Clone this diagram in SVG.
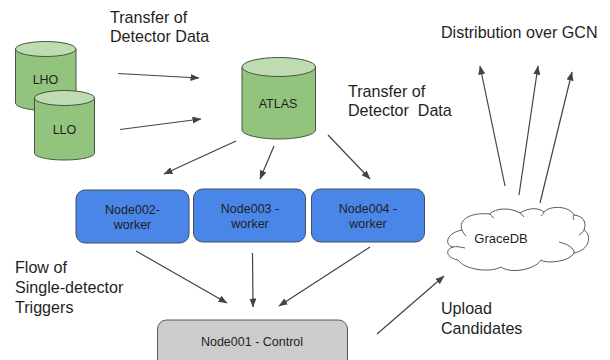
<svg xmlns="http://www.w3.org/2000/svg" width="610" height="360" viewBox="0 0 610 360">
<style>
text{font-family:"Liberation Sans",Arial,sans-serif;fill:#1f1f1f}
.l{font-size:16.1px;white-space:pre}
.n{font-size:12.5px;text-anchor:middle}
.body{fill:#93c47d;stroke:#45553f;stroke-width:1}
.top{fill:#bedbb1;stroke:#45553f;stroke-width:1}
.blue{fill:#4a86e8;stroke:#434f63;stroke-width:1}
.grey{fill:#cccccc;stroke:#595959;stroke-width:1}
.c{stroke:#434343;stroke-width:1.2;fill:none;marker-end:url(#a)}
.cloud{fill:#fff;stroke:#595959;stroke-width:1}
.arc{fill:none;stroke:#595959;stroke-width:1}
</style>
<defs><marker id="a" markerUnits="userSpaceOnUse" markerWidth="10" markerHeight="8" refX="8.5" refY="3.500" orient="auto"><path d="M0 0L9 3.500L0 7Z" fill="#434343"/></marker></defs>
<rect width="610" height="360" fill="#fff"/>
<g id="connectors">
<line class="c" x1="118" y1="73.500" x2="199" y2="78"/>
<line class="c" x1="120" y1="129.500" x2="201" y2="119"/>
<line class="c" x1="236" y1="141" x2="164" y2="174"/>
<line class="c" x1="274" y1="146" x2="260" y2="179"/>
<line class="c" x1="328" y1="135" x2="370" y2="179"/>
<line class="c" x1="136" y1="251" x2="227" y2="303"/>
<line class="c" x1="252.500" y1="253" x2="253" y2="307"/>
<line class="c" x1="370" y1="247" x2="279" y2="306"/>
<line class="c" x1="377" y1="334" x2="444" y2="276"/>
<line class="c" x1="505" y1="186" x2="480" y2="66"/>
<line class="c" x1="519" y1="195" x2="538" y2="66"/>
<line class="c" x1="540" y1="203" x2="572" y2="72"/>
</g>
<g id="lho">
<path class="body" d="M15.500 49V103C15.500 107 29 110.500 45.700 110.500S76 107 76 103V49Z"/>
<ellipse class="top" cx="45.700" cy="49" rx="30.200" ry="7.500"/>
<text class="n" x="45.500" y="84">LHO</text>
</g>
<g id="llo">
<path class="body" d="M34.500 98V153C34.500 157 48 160 64.500 160S94.500 157 94.500 153V98Z"/>
<ellipse class="top" cx="64.500" cy="98" rx="30" ry="7.500"/>
<text class="n" x="64.500" y="134">LLO</text>
</g>
<g id="atlas">
<path class="body" d="M242 67V130C242 135 260 139 278.800 139S315.500 135 315.500 130V67Z"/>
<ellipse class="top" cx="278.800" cy="67" rx="36.800" ry="9.500"/>
<text class="n" x="278" y="108">ATLAS</text>
</g>
<g id="node002"><rect class="blue" x="76" y="190" width="113" height="53" rx="9"/><text class="n" x="132.500" y="214">Node002-</text><text class="n" x="132.500" y="229">worker</text></g>
<g id="node003"><rect class="blue" x="193.500" y="189" width="112" height="53" rx="9"/><text class="n" x="250" y="213">Node003 -</text><text class="n" x="250" y="228">worker</text></g>
<g id="node004"><rect class="blue" x="311.500" y="189" width="113" height="53" rx="9"/><text class="n" x="368" y="213">Node004 -</text><text class="n" x="368" y="228">worker</text></g>
<g id="node001"><rect class="grey" x="157.500" y="320" width="190" height="50" rx="9"/><text class="n" x="252" y="346">Node001 - Control</text></g>
<g id="gracedb">
<path class="cloud" d="M453 247C444 245 446 233 462 230C458 220 470 212 490 214C495 208 510 207 520 213C528 208 538 207 544 212C550 205 570 206 574 215C583 216 587 222 584 230C592 235 590 250 574 253C570 262 545 264 541 260C535 270 510 274 501 267C490 273 465 270 458 260C447 258 444 250 453 247Z"/>
<path class="arc" d="M453 247C456 246 460 247 465 248M559 242C568 244 575 249 574 253M462 230C463 232 464 234 466 236M490 214C491 216 493 217 494 218M520 213C522 214 523 216 524 217M544 212C543 214 542 215 541 216M574 215C573 217 573 218 574 220M584 230C583 232 581 234 579 235"/>
<text class="n" x="501" y="243" style="font-size:13px">GraceDB</text>
</g>
<g id="labels">
<text class="l" x="110" y="23">Transfer of</text>
<text class="l" x="110" y="42">Detector Data</text>
<text class="l" x="348" y="97">Transfer of</text>
<text class="l" x="348" y="116">Detector  Data</text>
<text class="l" x="441" y="38">Distribution over GCN</text>
<text class="l" x="15" y="273">Flow of</text>
<text class="l" x="15" y="293">Single-detector</text>
<text class="l" x="15" y="313">Triggers</text>
<text class="l" x="441" y="314">Upload</text>
<text class="l" x="441" y="334">Candidates</text>
</g>
</svg>
